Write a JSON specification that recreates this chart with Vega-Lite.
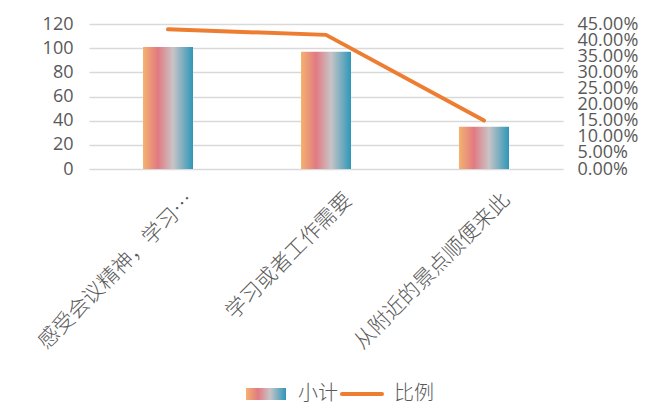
{
  "$schema": "https://vega.github.io/schema/vega-lite/v6.json",
  "width": 474,
  "height": 145,
  "autosize": "none",
  "padding": {"left": 89, "top": 24, "right": 94, "bottom": 251},
  "background": "white",
  "config": {
    "view": {"stroke": null},
    "font": "Noto Sans CJK SC",
    "axis": {"labelColor": "#595959", "ticks": false, "domain": false, "title": null}
  },
  "data": {
    "values": [
      {"原因": "感受会议精神，学习…", "小计": 101, "比例": 0.4335},
      {"原因": "学习或者工作需要", "小计": 97, "比例": 0.4163},
      {"原因": "从附近的景点顺便来此", "小计": 35, "比例": 0.1502}
    ]
  },
  "encoding": {
    "x": {
      "field": "原因",
      "type": "nominal",
      "sort": null,
      "scale": {"paddingInner": 0, "paddingOuter": 0},
      "axis": {
        "labelAngle": -45, "labelAlign": "right", "labelBaseline": "top",
        "labelPadding": 20, "labelOffset": 15, "labelLimit": 400,
        "labelFontSize": 21, "labelFontWeight": 300
      }
    }
  },
  "layer": [
    {
      "mark": {
        "type": "bar",
        "width": 50,
        "color": {
          "gradient": "linear", "x1": 0, "x2": 1, "y1": 0, "y2": 0,
          "stops": [
            {"offset": 0, "color": "#F4B26E"},
            {"offset": 0.3, "color": "#E27A82"},
            {"offset": 0.6, "color": "#C8C4C6"},
            {"offset": 1, "color": "#2E97B9"}
          ]
        }
      },
      "encoding": {
        "y": {
          "field": "小计",
          "type": "quantitative",
          "scale": {"domain": [0, 120]},
          "axis": {
            "values": [0, 20, 40, 60, 80, 100, 120],
            "grid": true, "gridColor": "#d9d9d9", "gridWidth": 1.5,
            "labelFont": "Open Sans", "labelFontSize": 18, "labelPadding": 16
          }
        }
      }
    },
    {
      "mark": {"type": "line", "strokeWidth": 4, "strokeCap": "round"},
      "encoding": {
        "y": {
          "field": "比例",
          "type": "quantitative",
          "scale": {"domain": [0, 0.45]},
          "axis": {
            "orient": "right",
            "values": [0, 0.05, 0.1, 0.15, 0.2, 0.25, 0.3, 0.35, 0.4, 0.45],
            "format": ".2%",
            "grid": false,
            "labelOverlap": false,
            "labelFont": "Open Sans",
            "labelFontSize": 18,
            "labelPadding": 14
          }
        },
        "color": {
          "datum": "比例",
          "type": "nominal",
          "scale": {"domain": ["小计", "比例"], "range": ["#E27A82", "#ED7D31"]},
          "legend": {
            "title": null,
            "orient": "none",
            "legendX": 167,
            "legendY": 360,
            "direction": "horizontal",
            "columns": 2,
            "columnPadding": -4,
            "symbolSize": 1600,
            "labelFontSize": 20,
            "labelFontWeight": 300,
            "labelColor": "#595959",
            "labelOffset": 22,
            "encode": {
              "symbols": {
                "update": {
                  "shape": {"signal": "datum.value === '比例' ? 'M-1,0H1' : 'M-1,-0.3H1V0.3H-1Z'"},
                  "strokeWidth": {"signal": "datum.value === '比例' ? 4 : 0"},
                  "stroke": {"value": "#ED7D31"},
                  "strokeCap": {"value": "round"},
                  "fill": {"signal": "datum.value === '比例' ? 'transparent' : {gradient: 'linear', x1: 0, x2: 1, y1: 0, y2: 0, stops: [{offset: 0, color: '#F4B26E'}, {offset: 0.3, color: '#E27A82'}, {offset: 0.6, color: '#C8C4C6'}, {offset: 1, color: '#2E97B9'}]}"},
                  "opacity": {"value": 1}
                }
              }
            }
          }
        }
      }
    }
  ],
  "resolve": {"scale": {"y": "independent"}}
}
